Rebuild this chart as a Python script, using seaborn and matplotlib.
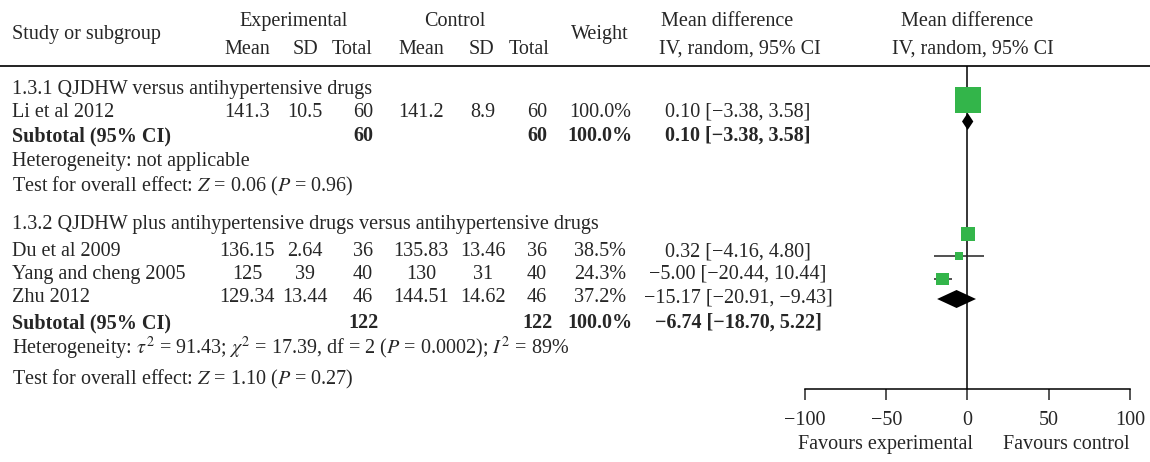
import matplotlib
matplotlib.use("Agg")
import matplotlib.pyplot as plt
import seaborn as sns
import numpy as np
import pandas as pd

# Datos de los estudios
studies = ["Li et al 2012", "Du et al 2009", "Yang and cheng 2005", "Zhu 2012"]
group_of_study = [0, 1, 1, 1]
exp_mean = ["141.3", "136.15", "125", "129.34"]
exp_sd = ["10.5", "2.64", "39", "13.44"]
exp_total = [60, 36, 40, 46]
ctl_mean = ["141.2", "135.83", "130", "144.51"]
ctl_sd = ["8.9", "13.46", "31", "14.62"]
ctl_total = [60, 36, 40, 46]
weights = [100.0, 38.5, 24.3, 37.2]
md = [0.10, 0.32, -5.00, -15.17]
ci_low = [-3.38, -4.16, -20.44, -20.91]
ci_high = [3.58, 4.80, 10.44, -9.43]

# Subtotales por subgrupo
groups = ["1.3.1 QJDHW versus antihypertensive drugs",
          "1.3.2 QJDHW plus antihypertensive drugs versus antihypertensive drugs"]
sub_exp_total = [60, 122]
sub_ctl_total = [60, 122]
sub_weight = [100.0, 100.0]
sub_md = [0.10, -6.74]
sub_low = [-3.38, -18.70]
sub_high = [3.58, 5.22]
heterogeneity = ["Heterogeneity: not applicable",
                 r"Heterogeneity: $\tau^2$ = 91.43; $\chi^2$ = 17.39, df = 2 ($P$ = 0.0002); $I^2$ = 89%"]
overall = [r"Test for overall effect: $Z$ = 0.06 ($P$ = 0.96)",
           r"Test for overall effect: $Z$ = 1.10 ($P$ = 0.27)"]
x_ticks = [-100, -50, 0, 50, 100]

# Layout (pixeles de la figura 1150x462)
W, H = 1150, 462
FS = 14.5
study_base = [117, 256, 279, 302]      # linea base del texto
study_mark = [100, 234, 256, 279]      # centro del marcador
group_base = [94, 229]
sub_base = [141, 328]
sub_mark = [121.5, 299]
sub_half = [8.5, 9]
het_base = [166, 354]
test_base = [191, 384]
col_x = {"em": 247, "esd": 305, "et": 363, "cm": 421, "csd": 483, "ct": 537,
         "w": 600, "ci": 738}

sns.set_style("white")
plt.rcParams["font.family"] = ["Liberation Serif", "DejaVu Serif"]
plt.rcParams["mathtext.fontset"] = "stix"

fig = plt.figure(figsize=(W / 100, H / 100), dpi=100)
tab = fig.add_axes([0, 0, 1, 1])
tab.set_xlim(0, W)
tab.set_ylim(H, 0)
tab.axis("off")


def put(x, y, s, ha="center", bold=False):
    tab.text(x, y, s, ha=ha, va="baseline", fontsize=FS,
             fontweight="bold" if bold else "normal")


def fmt_ci(m, lo, hi):
    return f"{m:.2f} [{lo:.2f}, {hi:.2f}]".replace("-", "\u2212")


# Cabecera
put(12, 39, "Study or subgroup", ha="left")
put(294, 26, "Experimental")
put(455, 26, "Control")
put(600, 39, "Weight")
put(727, 26, "Mean difference")
put(740, 54, "IV, random, 95% CI")
put(967, 26, "Mean difference")
put(973, 54, "IV, random, 95% CI")
for x, s in zip([247, 305, 352, 421, 481, 529], ["Mean", "SD", "Total"] * 2):
    put(x, 54, s)
tab.plot([0, W], [66, 66], color="#222222", lw=1.4)

# Filas de texto
for i, name in enumerate(studies):
    y = study_base[i]
    put(12, y, name, ha="left")
    put(col_x["em"], y, exp_mean[i])
    put(col_x["esd"], y, exp_sd[i])
    put(col_x["et"], y, str(exp_total[i]))
    put(col_x["cm"], y, ctl_mean[i])
    put(col_x["csd"], y, ctl_sd[i])
    put(col_x["ct"], y, str(ctl_total[i]))
    put(col_x["w"], y, f"{weights[i]:.1f}%")
    put(col_x["ci"], y, fmt_ci(md[i], ci_low[i], ci_high[i]))

for g in range(len(groups)):
    put(12, group_base[g], groups[g], ha="left")
    y = sub_base[g]
    put(12, y, "Subtotal (95% CI)", ha="left", bold=True)
    put(col_x["et"], y, str(sub_exp_total[g]), bold=True)
    put(col_x["ct"], y, str(sub_ctl_total[g]), bold=True)
    put(col_x["w"], y, f"{sub_weight[g]:.1f}%", bold=True)
    put(col_x["ci"], y, fmt_ci(sub_md[g], sub_low[g], sub_high[g]), bold=True)
    put(12, het_base[g], heterogeneity[g], ha="left")
    put(12, test_base[g], overall[g], ha="left")

put(973, 449, "Favours experimental", ha="right")
put(1130, 449, "Favours control", ha="right")

# Grafico de bosque
ax = fig.add_axes([805 / W, 1 - 389 / H, 325 / W, (389 - 66) / H])
ax.patch.set_alpha(0)
df = pd.DataFrame({"md": md, "y": study_mark, "weight": weights,
                   "lo": ci_low, "hi": ci_high})
ax.axvline(0, color="black", lw=1.1, zorder=0)
ax.hlines(df["y"], df["lo"], df["hi"], color="#222222", lw=1.1, zorder=1)
sns.scatterplot(data=df, x="md", y="y", size="weight", sizes=(33, 350),
                marker="s", color="#33b54a", linewidth=0, legend=False,
                ax=ax, zorder=2)
for g in range(len(groups)):
    yc, h = sub_mark[g], sub_half[g]
    ax.fill([sub_low[g], sub_md[g], sub_high[g], sub_md[g]],
            [yc, yc - h, yc, yc + h], color="black", lw=0, zorder=3)

ax.set_xlim(-100, 100)
ax.set_ylim(389, 66)
ax.set_xticks(x_ticks)
ax.set_yticks([])
ax.set_xlabel("")
ax.set_ylabel("")
for side in ["left", "right", "top"]:
    ax.spines[side].set_visible(False)
ax.spines["bottom"].set_linewidth(1.1)
ax.spines["bottom"].set_color("black")
ax.tick_params(axis="x", direction="out", length=7.9, width=1.1,
               labelsize=FS, pad=8, bottom=True)

plt.savefig("out.png", dpi=100)
